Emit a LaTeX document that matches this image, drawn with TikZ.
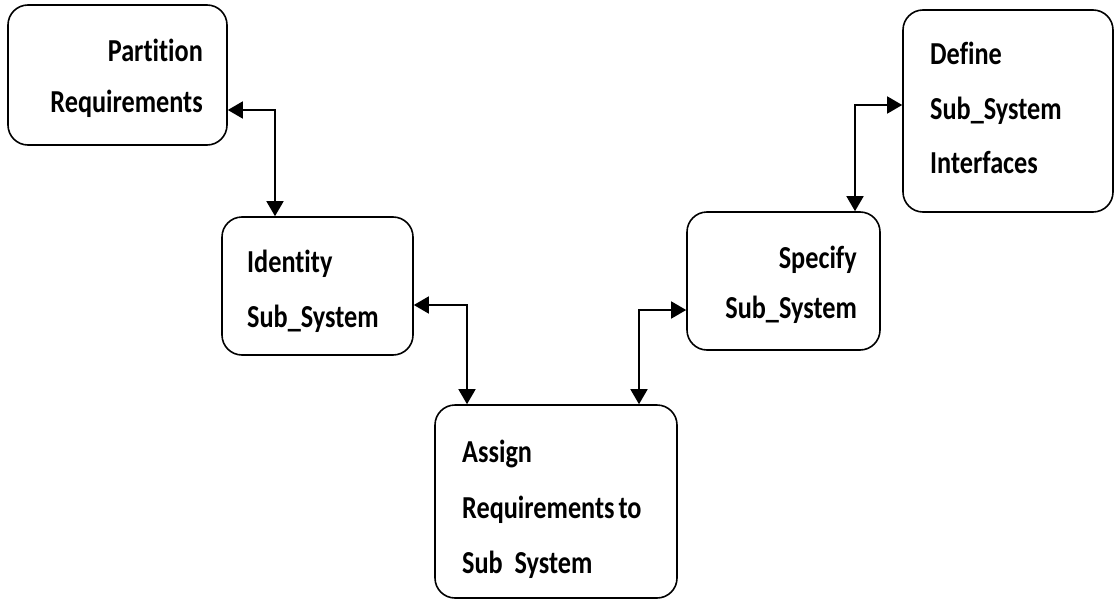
\documentclass[tikz,border=0pt]{standalone}
\usepackage{fontspec}
\newfontfamily\lbl{Carlito}[FakeStretch=0.82,Ligatures=CommonOff]
\usetikzlibrary{arrows.meta}
\begin{document}
\begin{tikzpicture}[x=1pt,y=-1pt,
  box/.style={draw,line width=1.6pt,rounded corners=20pt,inner sep=0pt},
  txt/.style={inner sep=0pt,font=\lbl\bfseries\fontsize{32}{38}\selectfont},
  link/.style={line width=1.6pt,{Triangle[length=15pt,width=17pt]}-{Triangle[length=15pt,width=17pt]}}]
\useasboundingbox[fill=white] (0,0) rectangle (1115,599);
% boxes
\node[box,minimum width=219pt,minimum height=140pt] (P) at (117.5,75) {};
\node[box,minimum width=191pt,minimum height=138pt] (I) at (317.5,286) {};
\node[box,minimum width=242pt,minimum height=193pt] (A) at (556,501.5) {};
\node[box,minimum width=193pt,minimum height=138pt] (S) at (783.5,281) {};
\node[box,minimum width=210pt,minimum height=202pt] (D) at (1008,111) {};
% texts
\node[txt,anchor=base east] (p1) at (203,62) {Partition};
\node[txt,anchor=base east] (p2) at (203,113) {Requirements};
\node[txt,anchor=base west] (i1) at (247,272) {Identity};
\node[txt,anchor=base west] (i2) at (247,327) {Sub\_System};
\node[txt,anchor=base west] (a1) at (462,462) {Assign};
\node[txt,anchor=base west] (a2) at (462,518) {Requirements\hspace{4pt}to};
\node[txt,anchor=base west] (a3) at (462,573) {Sub\ \ System};
\node[txt,anchor=base east] (s1) at (857,268) {Specify};
\node[txt,anchor=base east] (s2) at (857,318) {Sub\_System};
\node[txt,anchor=base west] (d1) at (930,65) {Define};
\node[txt,anchor=base west] (d2) at (930,120) {Sub\_System};
\node[txt,anchor=base west] (d3) at (930,173) {Interfaces};
% bends
\coordinate (c1) at (275,110);
\coordinate (c2) at (467,305);
\coordinate (c3) at (639,310);
\coordinate (c4) at (855,105);
% connectors
\draw[link] (c1 -| P.east) -- (c1) -- (c1 |- I.north);
\draw[link] (c2 -| I.east) -- (c2) -- (c2 |- A.north);
\draw[link] (c3 |- A.north) -- (c3) -- (c3 -| S.west);
\draw[link] (c4 |- S.north) -- (c4) -- (c4 -| D.west);
\end{tikzpicture}
\end{document}
